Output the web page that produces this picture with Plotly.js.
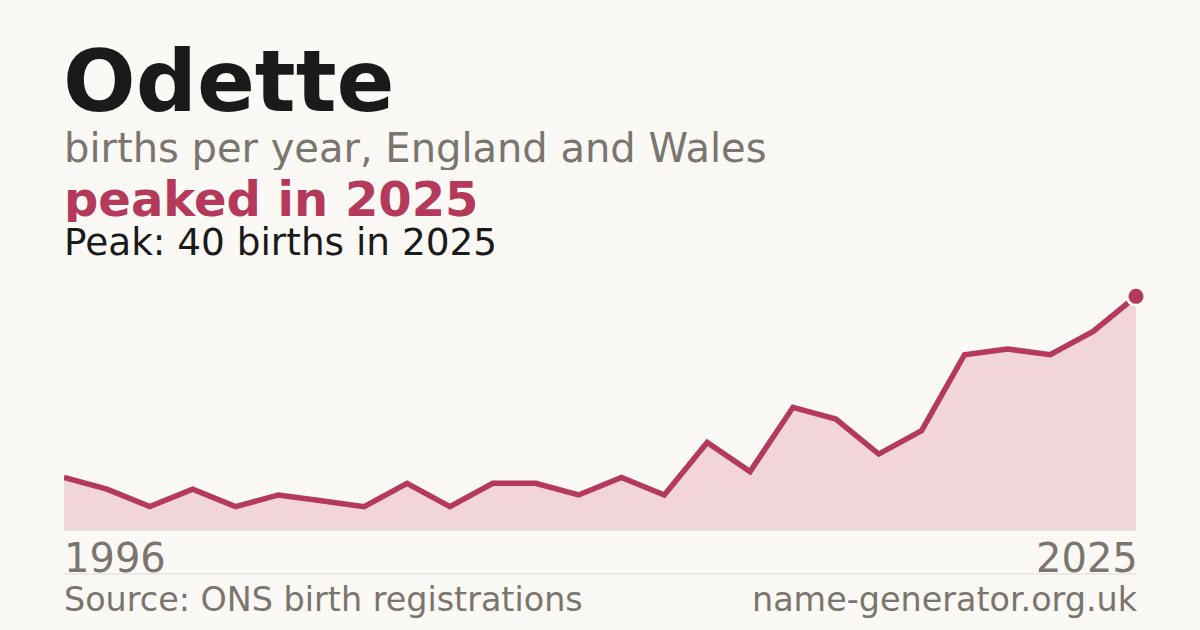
<!DOCTYPE html>
<html>
<head>
<meta charset="utf-8">
<script src="https://cdn.plot.ly/plotly-3.0.1.min.js"></script>
<style>
  html, body { margin: 0; padding: 0; background: #faf9f5; }
  #plot { width: 1200px; height: 630px; }
</style>
</head>
<body>
<div id="plot"></div>
<script>
// births per year (first point 1996, last 2025)
const births = [9, 7, 4, 7, 4, 6, 5, 4, 8, 4, 8, 8, 6, 9, 6, 15, 10, 21, 19, 13, 17, 30, 31, 30, 34, 40]
const yearLabels = ['1996', '2025']
const name = 'Odette'
const peakYear = '2025'

const W = 1200, H = 630
const L = 64, R = 64, T = 273, B = 100
const plotW = W - L - R, plotH = H - T - B

function px(x) { return (x - L) / plotW }
function py(y) { return (T + plotH - y) / plotH }

const font = 'DejaVu Sans, sans-serif'
const gray = '#7a756e'
const red = '#b5395a'

const xs = births.map((v, i) => i)
const peak = Math.max(...births)
const last = births.length - 1

const area = {
    x: xs,
    y: births,
    type: 'scatter',
    mode: 'lines',
    fill: 'tozeroy',
    fillcolor: '#f1d5da',
    line: { color: red, width: 5.5 },
    hoverinfo: 'skip'
}

const peakDot = {
    x: [last],
    y: [births[last]],
    type: 'scatter',
    mode: 'markers',
    marker: { color: red, size: 18, line: { color: '#faf9f5', width: 3 } },
    cliponaxis: false,
    hoverinfo: 'skip'
}

function label(text, x, y, size, color, anchor, bold, boxH) {
    return {
        text: bold ? '<b>' + text + '</b>' : text,
        xref: 'paper', yref: 'paper',
        x: px(x), y: py(y),
        xanchor: anchor, yanchor: 'middle',
        showarrow: false,
        borderpad: 0,
        height: Math.round(size * (boxH || 1.12)),
        font: { family: font, size: size, color: color }
    }
}

const layout = {
    width: W,
    height: H,
    margin: { l: L, r: R, t: T, b: B },
    paper_bgcolor: '#faf9f5',
    plot_bgcolor: '#faf9f5',
    showlegend: false,
    xaxis: { range: [0, last], visible: false, fixedrange: true },
    yaxis: { range: [0, 44], visible: false, fixedrange: true },
    shapes: [
        { type: 'line', xref: 'paper', yref: 'paper', x0: 0, x1: 1, y0: py(530), y1: py(530),
          line: { color: '#dedbd4', width: 1 }, layer: 'above' },
        { type: 'line', xref: 'paper', yref: 'paper', x0: 0, x1: 1, y0: py(574), y1: py(574),
          line: { color: '#dedbd4', width: 1 } }
    ],
    annotations: [
        label(name, 62, 81, 85.5, '#1a1a1a', 'left', true),
        label('births per year, England and Wales', 63, 147, 40, gray, 'left', false),
        label('peaked in ' + peakYear, 63, 198, 48, red, 'left', true, 0.98),
        label('Peak: ' + peak + ' births in ' + peakYear, 63, 241, 37.4, '#1a1a1a', 'left', false, 0.98),
        label(yearLabels[0], 63, 557, 40, gray, 'left', false),
        label(yearLabels[1], 1138.5, 557, 40, gray, 'right', false),
        label('Source: ONS birth registrations', 63, 599, 33.4, gray, 'left', false),
        label('name-generator.org.uk', 1138.5, 599, 33.4, gray, 'right', false)
    ]
}

Plotly.newPlot('plot', [area, peakDot], layout, { staticPlot: true })
</script>
</body>
</html>
